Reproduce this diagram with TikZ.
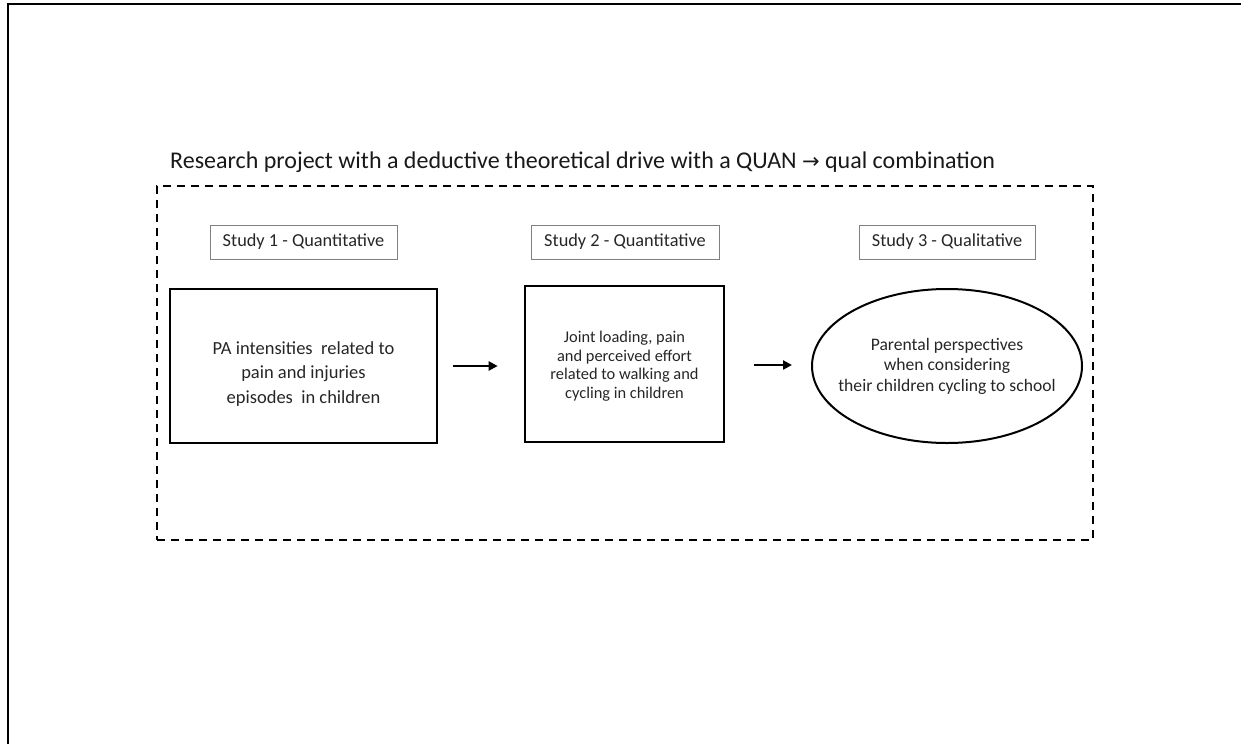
\documentclass[tikz,border=0pt]{standalone}
\usepackage{fontspec}
\setmainfont{Carlito}
\newfontfamily\symfont{DejaVu Sans}
\usetikzlibrary{shapes.geometric,arrows.meta}
\begin{document}
\begin{tikzpicture}[x=1pt,y=-1pt,
  studylabel/.style={draw=black!50, line width=1pt, inner sep=0pt,
    minimum height=34pt, text=black!85,
    font=\fontsize{18.3}{21}\selectfont},
  studybox/.style={draw=black, line width=2.6pt, inner sep=0pt},
  studyoval/.style={draw=black, ellipse, line width=2pt, inner sep=0pt},
  inside/.style={align=center, text=black!85, inner sep=0pt},
  flow/.style={line width=2.2pt, -{Triangle[length=9pt,width=9pt]}}
]
\useasboundingbox (0,0) rectangle (1241,744);

% page frame
\draw[line width=1.6pt] (8,744) -- (8,4) -- (1241,4);

% heading of the project
\node[anchor=base west, inner sep=0pt, text=black!90,
      font=\fontsize{24}{28}\selectfont] (head) at (170,168)
  {Research project with a deductive theoretical drive with a QUAN {\symfont\fontsize{21}{24}\selectfont →} qual combination};

% dashed project frame
\node[draw, dash pattern=on 8pt off 6pt, line width=2pt, inner sep=0pt,
      minimum width=936pt, minimum height=354pt] (frame) at (625,363) {};

% study labels
\node[studylabel, minimum width=187pt] (l1) at (303.5,242) {Study 1 - Quantitative};
\node[studylabel, minimum width=188pt] (l2) at (625,242) {Study 2 - Quantitative};
\node[studylabel, minimum width=176pt] (l3) at (947,242) {Study 3 - Qualitative};

% studies
\node[studybox, minimum width=267pt, minimum height=154pt,
      label={[inside, yshift=-8pt, font=\fontsize{18.5}{24.5}\selectfont]center:
        PA intensities\ \ related to\\pain and injuries\\episodes\ \ in children}]
  (s1) at (303.5,366) {};
\node[studybox, minimum width=199pt, minimum height=156pt,
      label={[inside, yshift=-2pt, font=\fontsize{16.4}{18.5}\selectfont]center:
        Joint loading, pain\\and perceived effort\\related to walking and\\cycling in children}]
  (s2) at (624.5,364) {};
\node[studyoval, minimum width=270pt, minimum height=154pt,
      label={[inside, font=\fontsize{17.6}{20.5}\selectfont]center:
        Parental perspectives\\when considering\\their children cycling to school}]
  (s3) at (947,366) {};

% sequence of studies
\draw[flow] ([xshift=15pt]s1.east) coordinate (a1) -- ([xshift=-26pt]s2.west |- a1);
\draw[flow] ([xshift=29pt,yshift=-1pt]s2.east) coordinate (a2) -- ([xshift=-19pt]s3.west |- a2);
\end{tikzpicture}
\end{document}
